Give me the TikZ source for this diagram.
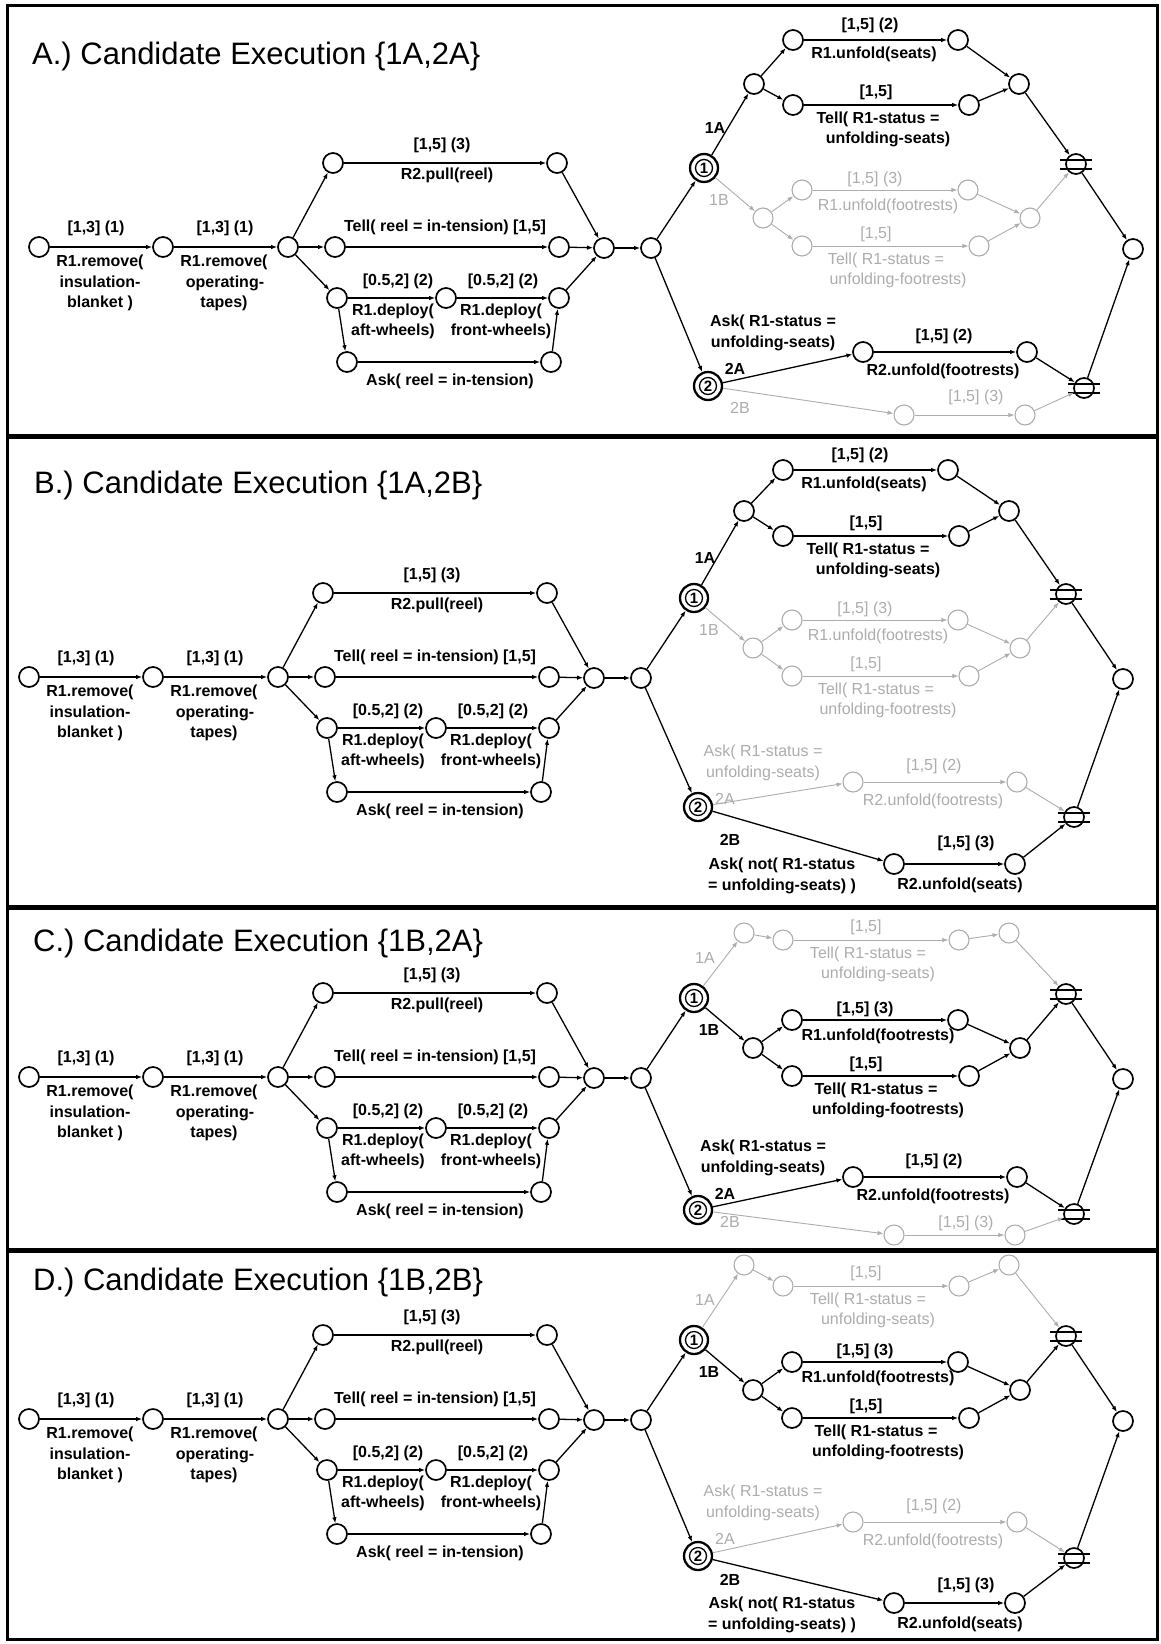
\documentclass[tikz,border=0pt]{standalone}
\usepackage{fontspec}
\setmainfont{Liberation Sans}
\usetikzlibrary{arrows.meta}
\definecolor{lg}{gray}{0.68}
\newcounter{lbn}

\tikzset{
  x=1pt, y=-1pt,
  tip/.style={-{Latex[length=6pt,width=4.5pt]}},
  nact/.style={circle, draw=black, line width=1.7pt, minimum size=20pt, inner sep=0pt},
  nina/.style={circle, draw=lg, line width=1.1pt, minimum size=20pt, inner sep=0pt},
  eact/.style={tip, draw=black, line width=1.3pt},
  eina/.style={tip, draw=lg, line width=0.9pt},
  tact/.style={text=black, font=\fontsize{16}{19}\selectfont\bfseries},
  tina/.style={text=lg, font=\fontsize{16}{19}\selectfont},
  lbl/.style={anchor=mid, inner sep=0pt},
  dcout/.style={nact, line width=2.3pt, minimum size=28pt},
  dcin/.style={circle, draw=black, line width=1.3pt, minimum size=17pt, inner sep=0pt,
               font=\fontsize{15}{15}\selectfont\bfseries},
  title/.style={anchor=base west, inner sep=0pt, font=\fontsize{31}{36}\selectfont},
  bar/.style={line width=2pt, draw=black},
}

% branch appearance: active (black) or inactive (grey)
\newcommand\setbr[2]{\tikzset{e#1/.style={e#2},n#1/.style={n#2},t#1/.style={t#2}}}
% one text line, centred on a point
\newcommand\lb[3]{\stepcounter{lbn}\node[lbl,#1] (L\arabic{lbn}) at (#2) {#3};}

% one candidate-execution network, clipped to its panel
\newcommand\drawpanel{%
\begin{scope}
\clip (7,\CT) rectangle (1157,\CB);
\begin{scope}[shift={(\PX,\PY)}, name prefix=\PN-]
% ---- common prefix of the plan
\node[nact] (n0) at (39,247) {};
\node[nact] (n1) at (163,247) {};
\node[nact] (n2) at (288,247) {};
\node[nact] (p1) at (333,163) {};
\node[nact] (p2) at (557,163) {};
\node[nact] (t1) at (335,247) {};
\node[nact] (t2) at (559,247) {};
\node[nact] (w1) at (337,298) {};
\node[nact] (w2) at (446,298) {};
\node[nact] (w3) at (559,298) {};
\node[nact] (k1) at (347,362) {};
\node[nact] (k2) at (551,362) {};
\node[nact] (j) at (604,248) {};
\node[nact] (d) at (651,248) {};
\draw[eact] (n0) -- (n1);
\draw[eact] (n1) -- (n2);
\draw[eact] (n2) -- (p1);
\draw[eact] (n2) -- (t1);
\draw[eact] (n2) -- (w1);
\draw[eact] (p1) -- (p2);
\draw[eact] (t1) -- (t2);
\draw[eact] (w1) -- (w2);
\draw[eact] (w2) -- (w3);
\draw[eact] (w1) -- (k1);
\draw[eact] (k1) -- (k2);
\draw[eact] (k2) -- (w3);
\draw[eact] (p2) -- (j);
\draw[eact] (t2) -- (j);
\draw[eact] (w3) -- (j);
\draw[eact] (j) -- (d);
\lb{tact}{96,230}{[1,3] (1)}
\lb{tact}{100,264}{R1.remove(}
\lb{tact}{100,285}{insulation-}
\lb{tact}{100,305}{blanket )}
\lb{tact}{225,230}{[1,3] (1)}
\lb{tact}{224,264}{R1.remove(}
\lb{tact}{225,285}{operating-}
\lb{tact}{224,305}{tapes)}
\lb{tact}{442,147}{[1,5] (3)}
\lb{tact}{447,177}{R2.pull(reel)}
\lb{tact}{445,229}{Tell( reel = in-tension) [1,5]}
\lb{tact}{398,283}{[0.5,2] (2)}
\lb{tact}{503,283}{[0.5,2] (2)}
\lb{tact}{393,313}{R1.deploy(}
\lb{tact}{393,333}{aft-wheels)}
\lb{tact}{501,313}{R1.deploy(}
\lb{tact}{501,333}{front-wheels)}
\lb{tact}{450,383}{Ask( reel = in-tension)}
% ---- choice points, merges and end
\node[dcout] (c1) at (704,168) {};
\node[dcin] (c1i) at (c1) {1};
\node[dcout] (c2) at (708,\cT) {};
\node[dcin] (c2i) at (c2) {2};
\node[nact] (m1) at (1076,164) {};
\draw[bar] ([xshift=-16pt,yshift=4.5pt]m1.center) -- ([xshift=16pt,yshift=4.5pt]m1.center);
\draw[bar] ([xshift=-16pt,yshift=-4.5pt]m1.center) -- ([xshift=16pt,yshift=-4.5pt]m1.center);
\node[nact] (m2) at (1084,\mT) {};
\draw[bar] ([xshift=-16pt,yshift=4.5pt]m2.center) -- ([xshift=16pt,yshift=4.5pt]m2.center);
\draw[bar] ([xshift=-16pt,yshift=-4.5pt]m2.center) -- ([xshift=16pt,yshift=-4.5pt]m2.center);
\node[nact] (F) at (1133,249) {};
\draw[eact] (d) -- (c1);
\draw[eact] (d) -- (c2);
\draw[eact] (m1) -- (F);
\draw[eact] (m2) -- (F);
% ---- choice 1A
\node[nOneA] (a0) at (754,\aO) {};
\node[nOneA] (a2) at (793,\aT) {};
\node[nOneA] (a4) at (969,\aT) {};
\node[nOneA] (a5) at (1019,\aO) {};
\draw[eOneA] (c1) -- (a0);
\draw[eOneA] (a0) -- (a2);
\draw[eOneA] (a2) -- (a4);
\draw[eOneA] (a4) -- (a5);
\draw[eOneA] (a5) -- (m1);
\ifnum\seats=1
\node[nOneA] (a1) at (793,40) {};
\node[nOneA] (a3) at (958,40) {};
\draw[eOneA] (a0) -- (a1);
\draw[eOneA] (a1) -- (a3);
\draw[eOneA] (a3) -- (a5);
\lb{tOneA}{870,27}{[1,5] (2)}
\lb{tOneA}{874,56}{R1.unfold(seats)}
\fi
\lb{tOneA}{715,131}{1A}
\lb{tOneA}{876,\aT-11}{[1,5]}
\lb{tOneA}{878,\aT+16}{Tell( R1-status =}
\lb{tOneA}{888,\aT+36}{unfolding-seats)}
% ---- choice 1B
\node[nOneB] (b0) at (763,218) {};
\node[nOneB] (b1) at (802,190) {};
\node[nOneB] (b2) at (802,246) {};
\node[nOneB] (b3) at (968,190) {};
\node[nOneB] (b4) at (979,246) {};
\node[nOneB] (b5) at (1030,218) {};
\draw[eOneB] (c1) -- (b0);
\draw[eOneB] (b0) -- (b1);
\draw[eOneB] (b0) -- (b2);
\draw[eOneB] (b1) -- (b3);
\draw[eOneB] (b2) -- (b4);
\draw[eOneB] (b3) -- (b5);
\draw[eOneB] (b4) -- (b5);
\draw[eOneB] (b5) -- (m1);
\lb{tOneB}{719,203}{1B}
\lb{tOneB}{875,181}{[1,5] (3)}
\lb{tOneB}{888,208}{R1.unfold(footrests)}
\lb{tOneB}{876,236}{[1,5]}
\lb{tOneB}{886,262}{Tell( R1-status =}
\lb{tOneB}{898,282}{unfolding-footrests)}
% ---- choice 2A
\node[nTwoA] (e1) at (863,\eY) {};
\node[nTwoA] (e2) at (1027,\eY) {};
\draw[eTwoA] (c2) -- (e1);
\draw[eTwoA] (e1) -- (e2);
\draw[eTwoA] (e2) -- (m2);
\lb{tTwoA}{773,\eY-28}{Ask( R1-status =}
\lb{tTwoA}{773,\eY-7}{unfolding-seats)}
\lb{tTwoA}{735,\eY+20}{2A}
\lb{tTwoA}{944,\eY-14}{[1,5] (2)}
\lb{tTwoA}{943,\eY+21}{R2.unfold(footrests)}
% ---- choice 2B
\node[nTwoB] (f1) at (904,\fY) {};
\node[nTwoB] (f2) at (1025,\fY) {};
\draw[eTwoB] (c2) -- (f1);
\draw[eTwoB] (f1) -- (f2);
\draw[eTwoB] (f2) -- (m2);
\lb{tTwoB}{740,\tB}{2B}
\lb{tTwoB}{976,\fL}{[1,5] (3)}
\ifnum\shownot=1
\lb{tTwoB}{792,\fY+3}{Ask( not( R1-status}
\lb{tTwoB}{792,\fY+24}{= unfolding-seats) )}
\lb{tTwoB}{970,\fY+23}{R2.unfold(seats)}
\fi
\end{scope}
\end{scope}}

\begin{document}
\begin{tikzpicture}
\useasboundingbox (0,0) rectangle (1161,1644);
\fill[white] (0,0) rectangle (1161,1644);

% panel A
\def\PN{A}\def\PX{0}\def\PY{0}\def\CT{5}\def\CB{436}
\def\aO{84}\def\aT{105}\def\seats{1}\def\cT{386}\def\eY{352}\def\mT{388}
\def\fY{415}\def\fL{399}\def\tB{411}\def\shownot{0}
\setbr{OneA}{act}\setbr{OneB}{ina}\setbr{TwoA}{act}\setbr{TwoB}{ina}
\node[title] (tA) at (32,64) {A.) Candidate Execution \{1A,2A\}};
\drawpanel

% panel B
\def\PN{B}\def\PX{-10}\def\PY{430}\def\CT{436}\def\CB{907}
\def\aO{81}\def\aT{106}\def\seats{1}\def\cT{377}\def\eY{352}\def\mT{387}
\def\fY{434}\def\fL{415}\def\tB{413}\def\shownot{1}
\setbr{OneA}{act}\setbr{OneB}{ina}\setbr{TwoA}{ina}\setbr{TwoB}{act}
\node[title] (tB) at (34,493) {B.) Candidate Execution \{1A,2B\}};
\drawpanel

% panel C
\def\PN{C}\def\PX{-10}\def\PY{830}\def\CT{907}\def\CB{1250}
\def\aO{103}\def\aT{110}\def\seats{0}\def\cT{380}\def\eY{347}\def\mT{384}
\def\fY{405}\def\fL{395}\def\tB{395}\def\shownot{0}
\setbr{OneA}{ina}\setbr{OneB}{act}\setbr{TwoA}{act}\setbr{TwoB}{ina}
\node[title] (tC) at (33,951) {C.) Candidate Execution \{1B,2A\}};
\drawpanel

% panel D
\def\PN{D}\def\PX{-10}\def\PY{1172}\def\CT{1250}\def\CB{1639}
\def\aO{93}\def\aT{114}\def\seats{0}\def\cT{384}\def\eY{350}\def\mT{386}
\def\fY{431}\def\fL{415}\def\tB{411}\def\shownot{1}
\setbr{OneA}{ina}\setbr{OneB}{act}\setbr{TwoA}{ina}\setbr{TwoB}{act}
\node[title] (tD) at (33,1290) {D.) Candidate Execution \{1B,2B\}};
\drawpanel

% frame and panel separators
\draw[line width=3pt] (7,5) rectangle (1157,1639);
\draw[line width=5pt] (7,436) -- (1157,436);
\draw[line width=5pt] (7,907) -- (1157,907);
\draw[line width=5pt] (7,1250) -- (1157,1250);
\end{tikzpicture}
\end{document}
